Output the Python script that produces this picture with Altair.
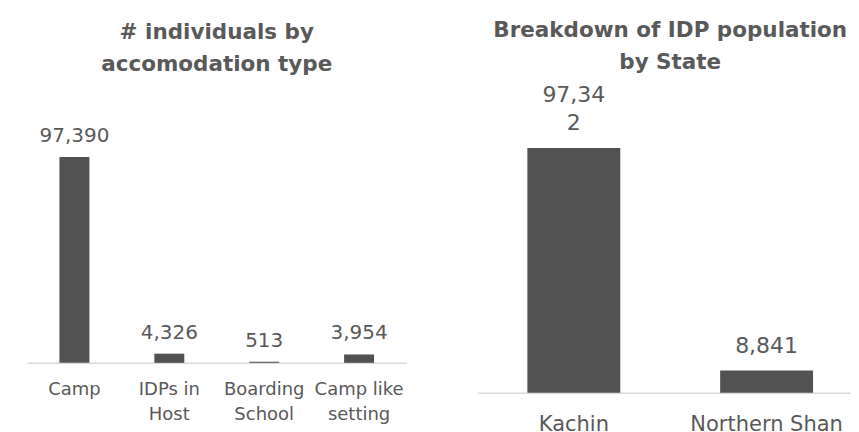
import altair as alt
import pandas as pd

acc_types = ["Camp", "IDPs in\nHost", "Boarding\nSchool", "Camp like\nsetting"]
acc_values = [97390, 4326, 513, 3954]
acc_labels = [f"{v:,}" for v in acc_values]

states = ["Kachin", "Northern Shan"]
state_values = [97342, 8841]
state_labels = ["97,34\n2", "8,841"]

FONT = "DejaVu Sans"
TXT = "#595959"
BAR = "#525252"


def label_rows(cats, values, labels):
    rows = []
    for c, v, lab in zip(cats, values, labels):
        lines = lab.split("\n")
        for k, line in enumerate(reversed(lines)):
            rows.append({"cat": c, "value": v, "line": line, "k": k})
    return pd.DataFrame(rows)


def panel(cats, values, labels, title, w, h, ymax, bar_size, lab_size, lab_lh,
          ax_size, ax_lh, ax_pad, gap, title_offset):
    df = pd.DataFrame({"cat": cats, "value": values})
    ldf = label_rows(cats, values, labels)
    x = alt.X("cat:N", sort=cats, title=None,
              scale=alt.Scale(paddingInner=0, paddingOuter=0),
              axis=alt.Axis(labelAngle=0, ticks=False, grid=False,
                            domainColor="#d9d9d9", domainWidth=1.5,
                            labelColor=TXT, labelFont=FONT, labelFontSize=ax_size,
                            labelLineHeight=ax_lh, labelPadding=ax_pad,
                            labelExpr="split(datum.label, '\\n')"))
    y = alt.Y("value:Q", title=None, scale=alt.Scale(domain=[0, ymax], nice=False),
              axis=None)
    layers = [alt.Chart(df).mark_bar(size=bar_size, color=BAR).encode(x=x, y=y)]
    for k in range(int(ldf["k"].max()) + 1):
        layers.append(
            alt.Chart(ldf).transform_filter(alt.datum.k == k).mark_text(
                baseline="alphabetic", dy=-(gap + k * lab_lh), font=FONT,
                fontSize=lab_size, color=TXT).encode(
                x=alt.X("cat:N", sort=cats), y="value:Q", text="line:N"))
    return alt.layer(*layers).properties(
        width=w, height=h,
        title=alt.TitleParams(text=title, font=FONT, fontSize=21.5, fontWeight="bold",
                              color=TXT, lineHeight=32, anchor="middle",
                              offset=title_offset))


left = panel(acc_types, acc_values, acc_labels, ["# individuals by", "accomodation type"],
             380, 285, 134700, 30, 20, 27, 18, 25, 18, 15, 3)
right = panel(states, state_values, state_labels, ["Breakdown of IDP population", "by State"],
              386, 315, 125150, 93, 22, 28, 21, 21, 21, 18, 5)

chart = alt.hconcat(left, right, spacing=71, bounds="flush").properties(
    padding={"left": 19, "top": 11, "right": -12, "bottom": 0}
).configure_view(stroke=None)

chart.save("out.html", embed_options={"renderer": "svg", "actions": False})
